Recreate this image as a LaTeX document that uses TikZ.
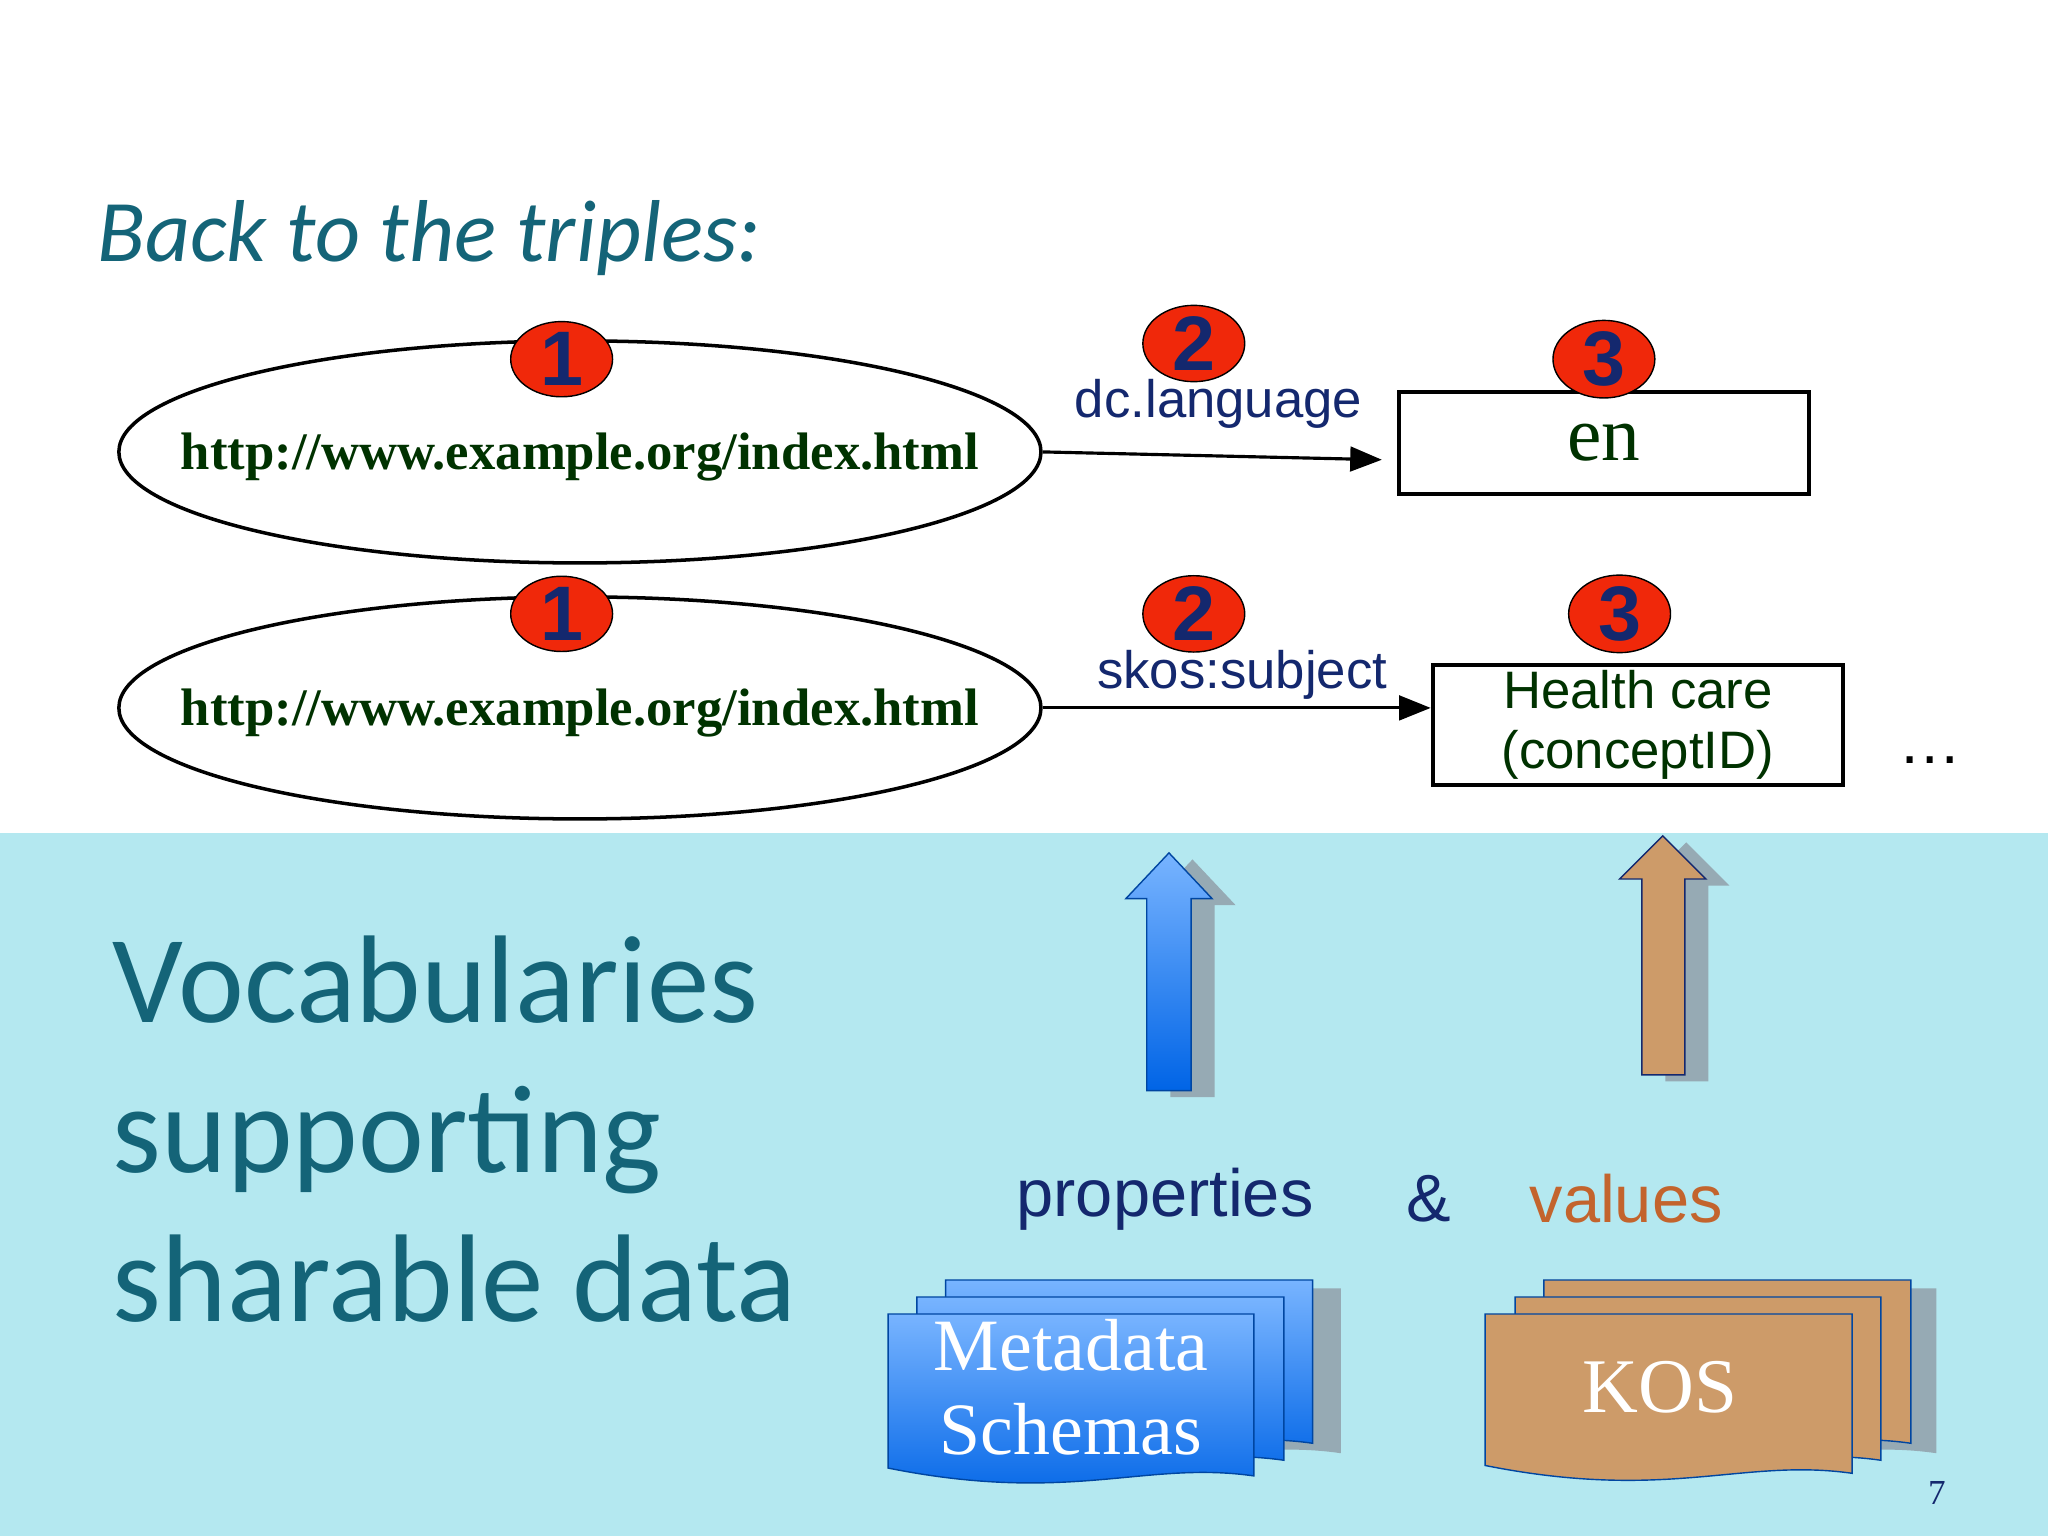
\documentclass[tikz,border=0pt]{standalone}
\usepackage{fontspec}
\usetikzlibrary{shapes.geometric,arrows.meta}
\setmainfont{Liberation Serif}
\newfontfamily\califont{Carlito}
\newfontfamily\ars{Liberation Sans}
\begin{document}
\begin{tikzpicture}[x=0.013061cm,y=-0.013061cm,
  num/.style={ellipse,draw=black,fill=numred,minimum width=78\unitx,minimum height=52\unitx,inner sep=0pt,font=\ars\bfseries\fontsize{22}{22}\selectfont,text=numblue},
  ell/.style={ellipse,draw=black,line width=1pt,minimum width=706\unitx,minimum height=170\unitx,inner sep=0pt},
  url/.style={font=\bfseries\fontsize{15}{16}\selectfont,text=dgreen},
  box/.style={draw=black,line width=1.2pt,inner sep=0pt},
  conn/.style={-{Triangle[length=9pt,width=7pt]},line width=0.9pt},
  lab/.style={font=\ars\fontsize{15}{16}\selectfont,text=numblue}]
\def\unitx{*0.013061cm}
\definecolor{titc}{RGB}{20,100,120}
\definecolor{numred}{RGB}{240,40,10}
\definecolor{numblue}{RGB}{20,40,110}
\definecolor{dgreen}{RGB}{0,50,0}
\definecolor{cyanbg}{RGB}{180,232,240}
\definecolor{tan}{RGB}{205,155,105}
\definecolor{lblue}{RGB}{120,180,255}
\definecolor{dblue}{RGB}{0,100,230}
\definecolor{shad}{RGB}{150,170,180}
\definecolor{valc}{RGB}{195,100,45}
\useasboundingbox (0,0) rectangle (1568,1176);
\fill[white] (0,0) rectangle (1568,638);
\fill[cyanbg] (0,638) rectangle (1568,1176);
\node[anchor=base west,text=titc,font=\califont\itshape\fontsize{25}{25}\selectfont] (title) at (65,200) {Back to the triples:};
% row 1
\node[ell] (e1) at (444,346) {};
\node[url] (u1) at (444,350) {http://www.example.org/index.html};
\node[box,minimum width=314\unitx,minimum height=78\unitx,font=\fontsize{22}{22}\selectfont,text=dgreen] (en) at (1228,339) {en};
\draw[conn] (e1.east) -- (1058,352) coordinate (a1);
\node[lab] (l1) at (933,309) {dc.language};
\node[num] (n11) at (430,275) {1};
\node[num] (n12) at (914,263) {2};
\node[num] (n13) at (1228,275) {3};
% row 2
\node[ell] (e2) at (444,542) {};
\node[url] (u2) at (444,546) {http://www.example.org/index.html};
\node[box,minimum width=314\unitx,minimum height=92\unitx,align=center,font=\ars\fontsize{15}{17}\selectfont,text=dgreen] (hc) at (1254,555) {Health care\\(conceptID)};
\draw[conn] (e2.east) -- (hc.west |- e2.east);
\node[lab] (l2) at (951,517) {skos:subject};
\node[num] (n21) at (430,470) {1};
\node[num] (n22) at (914,470) {2};
\node[num] (n23) at (1240,470) {3};
\node[font=\ars\fontsize{18}{18}\selectfont] (dots) at (1478,582) {\dots};
% up arrows
\fill[shad] (896,840) -- (930,840) -- (930,693) -- (946,693) -- (913,658) -- (880,693) -- (896,693) -- cycle;
\shade[top color=lblue,bottom color=dblue,draw=dblue!70!black] (878,835) -- (912,835) -- (912,688) -- (928,688) -- (895,653) -- (862,688) -- (878,688) -- cycle;
\fill[shad] (1275,828) -- (1308,828) -- (1308,678) -- (1324,678) -- (1291,645) -- (1258,678) -- (1275,678) -- cycle;
\filldraw[fill=tan,draw=numblue] (1257,823) -- (1290,823) -- (1290,673) -- (1306,673) -- (1273,640) -- (1240,673) -- (1257,673) -- cycle;
% main text
\node[anchor=base west,text=titc,font=\califont\fontsize{35.5}{36}\selectfont] (v1) at (77,783) {Vocabularies};
\node[anchor=base west,text=titc,font=\califont\fontsize{35.5}{36}\selectfont] (v2) at (77,898) {supporting};
\node[anchor=base west,text=titc,font=\califont\fontsize{35.5}{36}\selectfont] (v3) at (77,1012) {sharable data};
\node[font=\ars\fontsize{19}{19}\selectfont,text=numblue] (pr) at (892,918) {properties};
\node[font=\ars\fontsize{19}{19}\selectfont,text=numblue] (amp) at (1094,918) {\&};
\node[font=\ars\fontsize{19}{19}\selectfont,text=valc] (va) at (1245,918) {values};
% documents
\newcommand\docpg[6]{%
  \path[#5,draw=#6] (#1,#2) -- (#3,#2) -- (#3,#4) .. controls ({#3-0.3*(#3-#1)},{#4-12}) and ({#1+0.5*(#3-#1)},{#4+22}) .. (#1,{#4-6}) -- cycle;}
\docpg{746}{987}{1026}{1112}{fill=shad}{shad}
\docpg{724}{980}{1005}{1105}{top color=lblue,bottom color=dblue}{dblue!70!black}
\docpg{702}{993}{983}{1118}{top color=lblue,bottom color=dblue}{dblue!70!black}
\docpg{680}{1006}{960}{1130}{top color=lblue,bottom color=dblue}{dblue!70!black}
\docpg{1202}{987}{1482}{1112}{fill=shad}{shad}
\docpg{1182}{980}{1463}{1105}{fill=tan}{dblue!70!black}
\docpg{1160}{993}{1440}{1118}{fill=tan}{dblue!70!black}
\docpg{1137}{1006}{1418}{1128}{fill=tan}{dblue!70!black}
\node[align=center,text=white,font=\fontsize{21}{24}\selectfont] (ms) at (820,1062) {Metadata\\Schemas};
\node[text=white,font=\fontsize{22}{22}\selectfont] (kos) at (1271,1062) {KOS};
\node[text=numblue,font=\fontsize{10}{10}\selectfont] (pg) at (1483,1143) {7};
\end{tikzpicture}
\end{document}
